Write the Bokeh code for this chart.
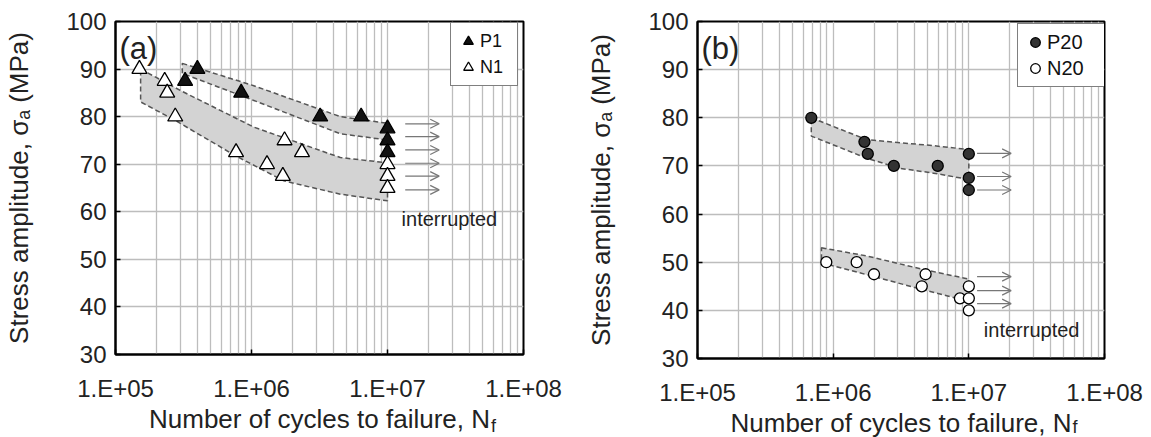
import math
from bokeh.plotting import figure
from bokeh.layouts import row
from bokeh.models import (ColumnDataSource, FixedTicker, Label, Legend, LegendItem,
                          Arrow, OpenHead, LogAxis)
from bokeh.embed import file_html
from bokeh.resources import INLINE

FONT = "Liberation Sans"

# ---------------- data: panel (a) ----------------
P1_N = [3.25e5, 4.0e5, 8.4e5, 3.2e6, 6.4e6, 1.0e7, 1.0e7, 1.0e7]
P1_S = [87.5, 90.0, 85.0, 80.0, 80.0, 77.5, 75.0, 72.5]
N1_N = [1.5e5, 2.3e5, 2.4e5, 2.75e5, 7.7e5, 1.3e6, 1.75e6, 1.7e6, 2.35e6, 1.0e7, 1.0e7, 1.0e7]
N1_S = [90.0, 87.5, 85.0, 80.0, 72.5, 70.0, 75.0, 67.5, 72.5, 70.0, 67.5, 65.0]
BAND_P1_N = [3.1e5, 1.04e6, 4.5e6, 1.0e7, 1.0e7, 4.5e6, 1.04e6, 3.1e5]
BAND_P1_S = [91.2, 86.5, 80.0, 78.6, 75.1, 76.4, 83.4, 89.1]
BAND_N1_N = [1.53e5, 3.0e5, 1.04e6, 4.5e6, 1.0e7, 1.0e7, 4.5e6, 1.73e6, 7.6e5, 2.75e5, 1.53e5]
BAND_N1_S = [90.0, 85.5, 77.8, 71.4, 70.3, 62.3, 63.7, 66.5, 71.8, 79.2, 83.1]
ARROW_A_S = [78.5, 75.8, 73.0, 70.2, 67.5, 64.6]
ARROW_A_START = [1.35e7] * 6
ARROW_A_END = [2.4e7] * 6

# ---------------- data: panel (b) ----------------
P20_N = [6.9e5, 1.7e6, 1.8e6, 2.8e6, 5.9e6, 1.0e7, 1.0e7, 1.0e7]
P20_S = [80.0, 75.0, 72.5, 70.0, 70.0, 72.5, 67.5, 65.0]
N20_N = [8.9e5, 1.49e6, 2.0e6, 4.8e6, 4.5e6, 8.6e6, 1.0e7, 1.0e7, 1.0e7]
N20_S = [50.0, 50.0, 47.5, 47.5, 45.0, 42.5, 45.0, 42.5, 40.0]
BAND_P20_N = [6.9e5, 1.77e6, 5.5e6, 1.0e7, 1.0e7, 5.5e6, 3.1e6, 1.77e6, 6.9e5]
BAND_P20_S = [80.0, 75.45, 74.2, 73.4, 67.2, 68.5, 69.5, 71.6, 76.2]
BAND_N20_N = [8.2e5, 1.77e6, 4.6e6, 1.0e7, 1.0e7, 8.2e6, 4.6e6, 1.77e6, 8.2e5]
BAND_N20_S = [53.0, 51.3, 48.5, 46.5, 42.0, 42.5, 44.3, 47.4, 49.9]
ARROW_B_S = [72.6, 67.8, 65.0, 47.0, 44.1, 41.4]
ARROW_B_START = [1.15e7] * 6
ARROW_B_END = [2.05e7] * 6

X_TICKS = [1e5, 1e6, 1e7, 1e8]
X_TICK_LABELS = ["1.E+05", "1.E+06", "1.E+07", "1.E+08"]
X_MINOR = [k * 10 ** e for e in (5, 6, 7) for k in range(2, 10)]
Y_TICKS = [30, 40, 50, 60, 70, 80, 90, 100]
X_LABEL = "Number of cycles to failure, N"
X_LABEL_SUB = "f"
Y_LABEL = "Stress amplitude, σₐ (MPa)"


def make_panel(frame_w, frame_h, bl, br, bt, bb, tag, bands, series, arrows,
               legend_loc, legend_font, legend_label_w, interrupted_xy, f_standoff):
    p = figure(frame_width=frame_w, frame_height=frame_h, x_axis_type="log",
               x_range=(1e5, 1e8), y_range=(30, 100),
               output_backend="svg", toolbar_location=None,
               min_border_left=bl, min_border_right=br,
               min_border_top=bt, min_border_bottom=bb)
    p.background_fill_color = "white"
    p.border_fill_color = "white"
    p.outline_line_color = "black"
    p.outline_line_width = 2

    tick = FixedTicker(ticks=X_TICKS, minor_ticks=X_MINOR)
    p.xaxis.ticker = tick
    p.xgrid.ticker = tick
    p.xaxis.major_label_overrides = dict(zip(X_TICKS, X_TICK_LABELS))
    p.yaxis.ticker = FixedTicker(ticks=Y_TICKS)
    p.ygrid.ticker = FixedTicker(ticks=Y_TICKS)
    for g in (p.xgrid, p.ygrid):
        g.grid_line_color = "#bdbdbd"
        g.grid_line_width = 1.3
    p.xgrid.minor_grid_line_color = "#bdbdbd"
    p.xgrid.minor_grid_line_width = 1.3

    for ax in (p.xaxis, p.yaxis):
        ax.axis_line_color = "black"
        ax.axis_line_width = 2
        ax.major_tick_in = 5
        ax.major_tick_out = 0
        ax.major_tick_line_color = "black"
        ax.major_tick_line_width = 1.5
        ax.minor_tick_line_color = None
        ax.major_label_text_font = FONT
        ax.major_label_text_font_size = "24px"
        ax.major_label_text_color = "#222222"
        ax.axis_label_text_font = FONT
        ax.axis_label_text_font_size = "26px"
        ax.axis_label_text_font_style = "normal"
        ax.axis_label_text_color = "#222222"
    p.xaxis.major_label_standoff = 16
    p.yaxis.major_label_standoff = 9
    p.xaxis.axis_label = X_LABEL
    p.xaxis.axis_label_standoff = -1
    p.yaxis.axis_label = Y_LABEL
    p.yaxis.axis_label_standoff = 29

    # subscript "f" of N_f: an extra label-only axis just under the axis title
    decade = frame_w / 3.0
    n_end_px = frame_w / 2.0 + 13.115 * 26 / 2.0      # right end of "...N"
    f_center = n_end_px + 1 + 0.278 * 18 / 2.0
    xf = 10 ** (5 + f_center / decade)
    fax = LogAxis(ticker=FixedTicker(ticks=[xf]),
                  major_label_overrides={xf: X_LABEL_SUB},
                  axis_line_color=None, major_tick_line_color=None,
                  minor_tick_line_color=None,
                  major_label_text_font=FONT, major_label_text_font_size="18px",
                  major_label_text_color="#222222", major_label_standoff=f_standoff)
    p.add_layout(fax, "below")

    # bands
    for bx, by in bands:
        p.patch(bx, by, fill_color="#d3d3d3", fill_alpha=1.0,
                line_color="#555555", line_width=1.5, line_dash="5 3")

    # arrows (interrupted tests)
    ys, x0, x1 = arrows
    asrc = ColumnDataSource(dict(x0=x0, x1=x1, y=ys))
    p.add_layout(Arrow(x_start="x0", y_start="y", x_end="x1", y_end="y",
                       source=asrc, line_color="#777777", line_width=1.2,
                       end=OpenHead(size=9, line_color="#777777", line_width=1.2)))

    items = []
    for name, xs, yv, marker, size, fill in series:
        r = p.scatter(xs, yv, marker=marker, size=size, fill_color=fill,
                      line_color="black", line_width=1.3)
        items.append(LegendItem(label=name, renderers=[r]))

    leg = Legend(items=items, location=legend_loc,
                 label_text_font=FONT, label_text_font_size=legend_font,
                 label_text_color="#111111",
                 glyph_width=24, glyph_height=26, label_height=26,
                 label_width=legend_label_w, label_standoff=0, spacing=0, padding=5,
                 border_line_color="black", border_line_width=1.5,
                 background_fill_color="white", background_fill_alpha=1.0,
                 margin=0)
    p.add_layout(leg)

    p.add_layout(Label(x=4, y=frame_h - 27, x_units="screen", y_units="screen",
                       text=tag, text_font=FONT, text_font_size="31px",
                       text_color="#222222", text_baseline="alphabetic"))

    ix, iy = interrupted_xy
    p.add_layout(Label(x=ix, y=iy, text="interrupted", text_font=FONT,
                       text_font_size="20px", text_color="#222222",
                       text_baseline="alphabetic"))
    return p


pa = make_panel(
    408, 333, 115, 52, 21, 83, "(a)",
    bands=[(BAND_P1_N, BAND_P1_S), (BAND_N1_N, BAND_N1_S)],
    series=[("P1", P1_N, P1_S, "triangle", 15, "#111111"),
            ("N1", N1_N, N1_S, "triangle", 15, "white")],
    arrows=(ARROW_A_S, ARROW_A_START, ARROW_A_END),
    legend_loc=(335, 268), legend_font="18px", legend_label_w=32,
    interrupted_xy=(1.27e7, 58.4), f_standoff=-27)

pb = make_panel(
    407, 337, 122, 47, 19, 81, "(b)",
    bands=[(BAND_P20_N, BAND_P20_S), (BAND_N20_N, BAND_N20_S)],
    series=[("P20", P20_N, P20_S, "circle", 11, "#333333"),
            ("N20", N20_N, N20_S, "circle", 11, "white")],
    arrows=(ARROW_B_S, ARROW_B_START, ARROW_B_END),
    legend_loc=(320, 271), legend_font="20px", legend_label_w=58,
    interrupted_xy=(1.29e7, 36.0), f_standoff=-30)

layout = row(pa, pb)
open("out.html", "w").write(file_html(layout, INLINE))
